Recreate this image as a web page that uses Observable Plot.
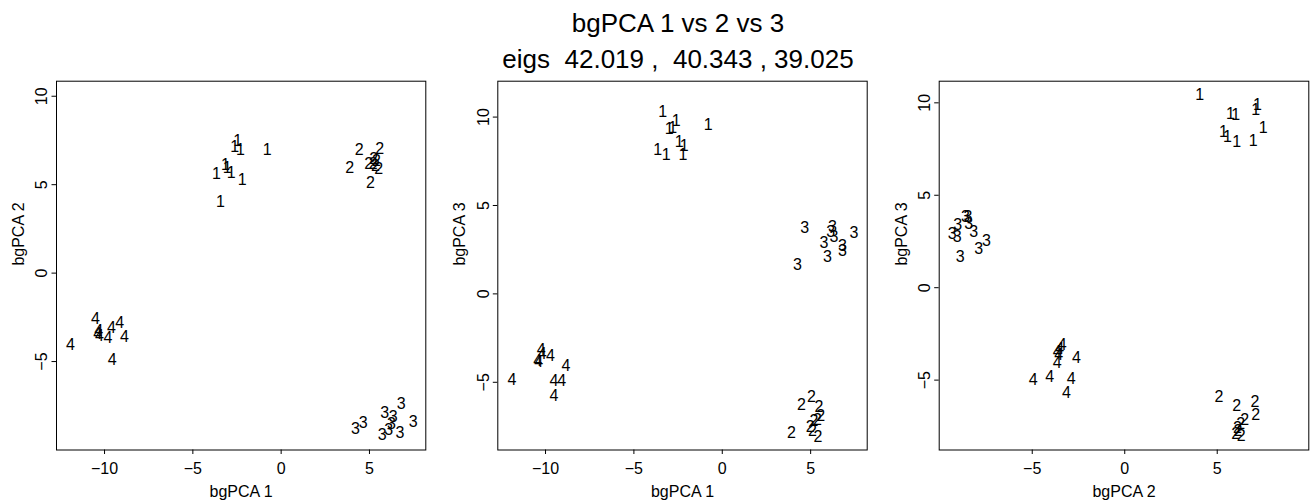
<!DOCTYPE html>
<html>
<head>
<meta charset="utf-8">
<script src="https://cdn.jsdelivr.net/npm/d3@7"></script>
<script src="https://cdn.jsdelivr.net/npm/@observablehq/plot@0.6"></script>
<style>
  body { margin: 0; background: #fff; }
  #wrap { position: relative; width: 1314px; height: 502px; overflow: hidden; background: #fff;
          font-family: "Liberation Sans", Arial, Helvetica, sans-serif; color: #000; }
  .title { position: absolute; left: 278px; width: 800px; text-align: center; font-size: 26px;
           line-height: 26px; white-space: pre; z-index: 2; }
</style>
</head>
<body>
<div id="wrap">
  <div class="title" style="top:9.7px">bgPCA 1 vs 2 vs 3</div>
  <div class="title" style="top:46.3px">eigs  42.019 ,  40.343 , 39.025</div>
</div>
<script>
// group labels
const groupLabels = ["1", "2", "3", "4"];

// Panel 1: bgPCA 1 (x) vs bgPCA 2 (y), one inner array per group
const p12X = [
  [-2.46, -2.63, -2.30, -0.79, -3.15, -3.06, -3.66, -2.83, -2.21, -3.44],
  [4.42, 5.58, 3.88, 5.06, 4.96, 5.24, 5.40, 5.34, 5.53, 5.21],
  [4.21, 4.64, 6.80, 5.87, 6.34, 7.47, 6.25, 6.09, 5.72, 6.72],
  [-10.52, -11.93, -9.57, -9.14, -9.61, -8.87, -9.80, -10.33, -10.38, -10.29]
];
const p12Y = [
  [7.48, 7.16, 6.96, 6.98, 6.13, 5.94, 5.60, 5.66, 5.28, 4.01],
  [6.98, 7.01, 5.94, 5.10, 6.20, 6.45, 6.36, 6.07, 5.89, 6.17],
  [-8.78, -8.44, -7.42, -7.90, -8.12, -8.40, -8.53, -8.87, -9.15, -9.02],
  [-2.57, -4.08, -4.92, -2.82, -3.08, -3.61, -3.67, -3.27, -3.42, -3.53]
];

// Panel 2: bgPCA 1 (x) vs bgPCA 3 (y)
const p13X = [
  [-3.37, -2.60, -3.00, -2.81, -0.80, -2.43, -2.15, -3.66, -3.17, -2.23],
  [5.04, 4.48, 5.47, 5.57, 5.38, 5.19, 4.97, 5.10, 3.92, 5.42],
  [4.67, 4.25, 5.76, 5.95, 6.23, 6.14, 6.32, 6.80, 6.80, 7.45],
  [-10.25, -10.19, -10.44, -10.38, -9.72, -8.84, -11.90, -9.53, -9.08, -9.53]
];
const p13Y = [
  [10.32, 9.77, 9.34, 9.40, 9.57, 8.62, 8.40, 8.12, 7.89, 7.89],
  [-5.84, -6.28, -6.41, -6.88, -7.13, -7.20, -7.50, -7.77, -7.86, -8.07],
  [3.74, 1.66, 2.89, 2.12, 3.78, 3.49, 3.21, 2.70, 2.46, 3.44],
  [-3.16, -3.39, -3.77, -3.86, -3.49, -4.09, -4.84, -4.90, -4.90, -5.75]
];

// Panel 3: bgPCA 2 (x) vs bgPCA 3 (y)
const p23X = [
  [4.05, 7.17, 7.08, 5.72, 6.00, 7.49, 5.33, 5.55, 6.05, 6.95],
  [5.09, 6.05, 7.04, 7.08, 6.48, 6.27, 6.09, 6.12, 6.00, 6.30],
  [-9.33, -9.06, -9.03, -8.61, -8.47, -8.44, -8.17, -7.48, -7.89, -8.89],
  [-3.38, -3.51, -3.65, -3.57, -3.65, -2.61, -4.95, -4.05, -2.90, -3.15]
];
const p23Y = [
  [10.44, 9.90, 9.61, 9.40, 9.35, 8.64, 8.41, 8.14, 7.90, 7.92],
  [-5.92, -6.42, -6.19, -6.87, -7.14, -7.36, -7.57, -7.77, -7.90, -8.04],
  [2.91, 2.73, 3.42, 3.81, 3.81, 3.45, 3.00, 2.51, 2.10, 1.65],
  [-3.12, -3.30, -3.49, -3.66, -4.06, -3.79, -4.96, -4.80, -4.92, -5.70]
];

// tick values
const ticksPC1 = [-10, -5, 0, 5];
const ticksPC2x = [-5, 0, 5];
const ticksY = [-5, 0, 5, 10];

const font = '"Liberation Sans", Arial, Helvetica, sans-serif';

function panel({X, Y, xDomain, yDomain, xTicks, yTicks, xLabel, yLabel, left, width, mL, mR}) {
  const data = [];
  X.forEach((xs, g) => xs.forEach((x, i) => data.push({g: groupLabels[g], x, y: Y[g][i]})));
  const svg = Plot.plot({
    width, height: 427,
    marginLeft: mL, marginRight: mR, marginTop: 5.7, marginBottom: 52.5,
    x: {domain: xDomain},
    y: {domain: yDomain},
    style: {fontFamily: font, fontSize: "16px", color: "black", background: "transparent", overflow: "visible"},
    marks: [
      Plot.frame({stroke: "black", strokeWidth: 1}),
      Plot.axisX(xTicks, {tickSize: 4.5, tickPadding: 7.7, label: null, fontSize: 16}),
      Plot.axisY(yTicks, {tickRotate: -90, tickSize: 4.5, tickPadding: 4.8, label: null, fontSize: 16}),
      Plot.text([xLabel], {frameAnchor: "bottom", lineAnchor: "bottom", dy: 47.2, text: d => d, fontSize: 16}),
      Plot.text([yLabel], {frameAnchor: "left", rotate: -90, lineAnchor: "bottom", dx: -32.7, text: d => d, fontSize: 16}),
      Plot.text(data, {x: "x", y: "y", text: "g", fontSize: 16, fill: "black"})
    ]
  });
  svg.style.position = "absolute";
  svg.style.left = left + "px";
  svg.style.top = "75px";
  svg.style.maxWidth = "none";
  document.getElementById("wrap").appendChild(svg);
}

panel({X: p12X, Y: p12Y, xDomain: [-12.72, 8.19], yDomain: [-10.0, 10.85],
       xTicks: ticksPC1, yTicks: ticksY, xLabel: "bgPCA 1", yLabel: "bgPCA 2",
       left: 0, width: 441, mL: 56, mR: 15.7});
panel({X: p13X, Y: p13Y, xDomain: [-12.70, 8.20], yDomain: [-8.83, 12.03],
       xTicks: ticksPC1, yTicks: ticksY, xLabel: "bgPCA 1", yLabel: "bgPCA 3",
       left: 441, width: 441, mL: 56.3, mR: 15.3});
panel({X: p23X, Y: p23Y, xDomain: [-10.03, 9.95], yDomain: [-8.78, 11.17],
       xTicks: ticksPC2x, yTicks: ticksY, xLabel: "bgPCA 2", yLabel: "bgPCA 3",
       left: 882, width: 432, mL: 56.7, mR: 5.7});
</script>
</body>
</html>
